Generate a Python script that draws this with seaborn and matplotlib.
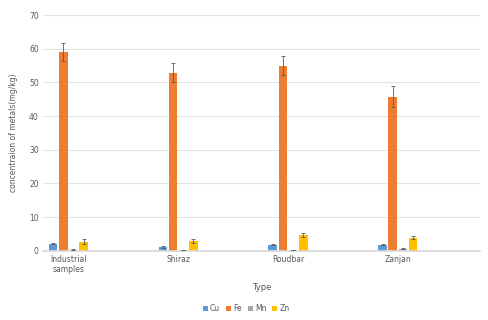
import matplotlib
matplotlib.use("Agg")
import matplotlib.pyplot as plt
import seaborn as sns
import pandas as pd
import numpy as np

categories = ["Industrial\nsamples", "Shiraz", "Roudbar", "Zanjan"]
metals = ["Cu", "Fe", "Mn", "Zn"]
cu = [2.1, 1.2, 1.8, 1.8]
fe = [59.1, 52.9, 55.0, 45.8]
mn = [0.4, 0.3, 0.3, 0.7]
zn = [2.7, 2.9, 4.6, 3.9]
cu_err = [0.2, 0.2, 0.2, 0.2]
fe_err = [2.7, 2.9, 2.9, 3.1]
mn_err = [0.1, 0.1, 0.1, 0.1]
zn_err = [0.7, 0.6, 0.6, 0.5]
colors = ["#5B9BD5", "#ED7D31", "#A5A5A5", "#FFC000"]

vals = {"Cu": cu, "Fe": fe, "Mn": mn, "Zn": zn}
errs = {"Cu": cu_err, "Fe": fe_err, "Mn": mn_err, "Zn": zn_err}
rows = []
for m in metals:
    for c, v, e in zip(categories, vals[m], errs[m]):
        rows.append({"Type": c, "Metal": m, "value": v, "err": e})
df = pd.DataFrame(rows)

sns.set_theme(style="white")
plt.rcParams["font.family"] = ["DejaVu Sans"]
fig = plt.figure(figsize=(4.89, 3.2), dpi=100)
ax = fig.add_axes([0.088, 0.216, 0.894, 0.737])

sns.barplot(data=df, x="Type", y="value", hue="Metal", palette=colors,
            width=0.37, gap=0.15, saturation=1, linewidth=0,
            ax=ax, errorbar=None, legend=True)

# error bars at bar centers
for cont, m in zip(ax.containers, metals):
    xs = [p.get_x() + p.get_width() / 2 for p in cont.patches]
    hs = [p.get_height() for p in cont.patches]
    ax.errorbar(xs, hs, yerr=errs[m], fmt="none", ecolor="#595959",
                elinewidth=0.6, capsize=1.5, capthick=0.6, zorder=5)

ax.set_ylim(0, 70)
ax.set_xlim(-0.23, 3.75)
ax.set_yticks(range(0, 71, 10))
ax.yaxis.grid(True, color="#E3E3E3", linewidth=0.8)
ax.set_axisbelow(True)
for s in ["top", "right", "left"]:
    ax.spines[s].set_visible(False)
ax.spines["bottom"].set_color("#D9D9D9")
ax.tick_params(axis="both", length=0, labelsize=5.5, colors="#595959", pad=3)
ax.set_xlabel("Type", fontsize=6, color="#595959", labelpad=6)
ax.set_ylabel("concentraion of metals(mg/kg)", fontsize=5.5, color="#595959", labelpad=8)

handles, labels = ax.get_legend_handles_labels()
ax.legend(handles, labels, loc="center", bbox_to_anchor=(0.465, -0.245),
          ncol=4, frameon=False, fontsize=5.5, handlelength=0.6, handleheight=0.6,
          handletextpad=0.3, columnspacing=0.8, labelcolor="#595959")

fig.savefig("out.png", dpi=100)
